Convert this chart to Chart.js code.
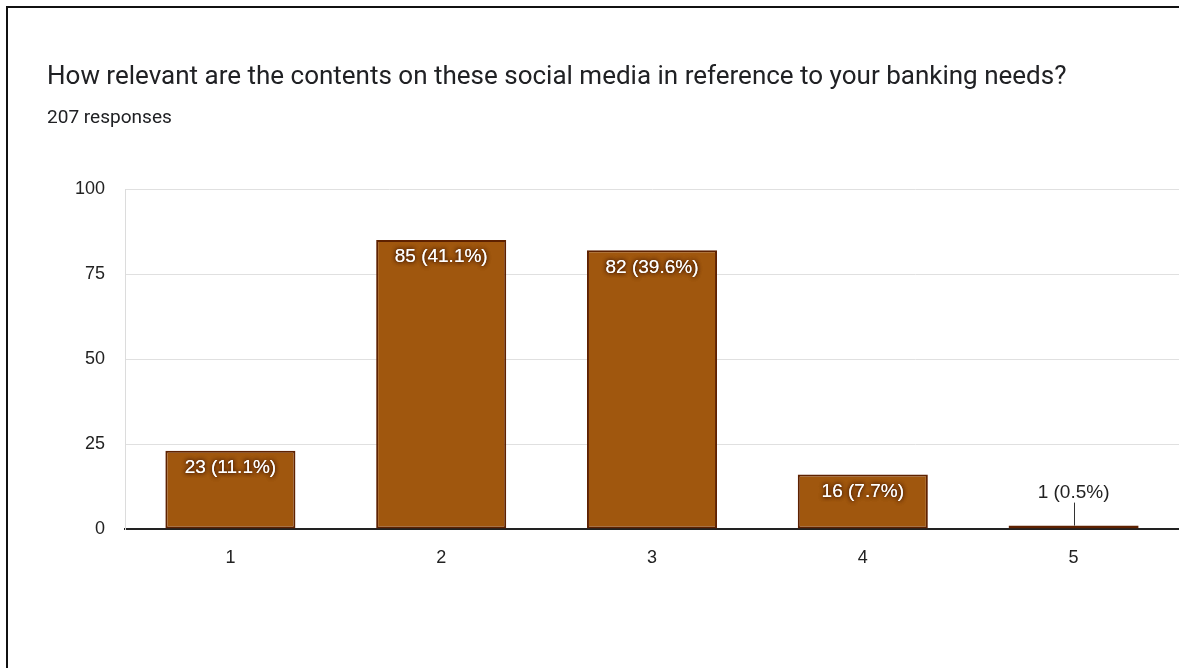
<!DOCTYPE html>
<html>
<head>
<meta charset="utf-8">
<script src="https://cdn.jsdelivr.net/npm/chart.js@4.4.1/dist/chart.umd.min.js"></script>
<style>
  html, body { margin: 0; padding: 0; background: #fff; overflow: hidden; }
  #wrap { position: relative; width: 1179px; height: 668px; }
</style>
</head>
<body>
<div id="wrap"><canvas id="chart"></canvas></div>
<script>
const titleText = "How relevant are the contents on these social media in reference to your banking needs?";
const subtitleText = "207 responses";
const categories = ["1", "2", "3", "4", "5"];
const responses = [23, 85, 82, 16, 1];
const percentLabels = ["11.1%", "41.1%", "39.6%", "7.7%", "0.5%"];
const yTicks = [0, 25, 50, 75, 100];

// size the heading fonts so they span the same width as in the picture
function fitSize(text, family, width) {
  const ctx = document.createElement("canvas").getContext("2d");
  ctx.font = "100px " + family;
  return 100 * width / ctx.measureText(text).width;
}
const titleSize = fitSize(titleText, "Roboto", 1020);
const subSize = fitSize(subtitleText, "Roboto", 125);

// the cropped card outline: only its left and top edges are in view
const cardEdge = {
  id: "cardEdge",
  beforeDraw(chart) {
    const ctx = chart.ctx;
    ctx.save();
    ctx.strokeStyle = "#111";
    ctx.lineWidth = 2;
    ctx.beginPath();
    ctx.moveTo(7, chart.height);
    ctx.lineTo(7, 7);
    ctx.lineTo(chart.width, 7);
    ctx.stroke();
    ctx.restore();
  },
};

const barLabels = {
  id: "barLabels",
  afterDatasetsDraw(chart) {
    const ctx = chart.ctx;
    const meta = chart.getDatasetMeta(0);
    ctx.save();
    ctx.font = "19px 'Liberation Sans'";
    ctx.textAlign = "center";
    ctx.textBaseline = "middle";
    meta.data.forEach((bar, i) => {
      const text = responses[i] + " (" + percentLabels[i] + ")";
      if (bar.base - bar.y > 30) {
        ctx.shadowColor = "rgba(60,20,0,0.95)";
        ctx.shadowBlur = 4;
        ctx.fillStyle = "#fff";
        ctx.fillText(text, bar.x, bar.y + 17);
        ctx.fillText(text, bar.x, bar.y + 17);
      } else {
        ctx.shadowBlur = 0;
        ctx.fillStyle = "#222";
        ctx.fillText(text, bar.x, bar.y - 33);
        ctx.strokeStyle = "#333";
        ctx.lineWidth = 1;
        ctx.beginPath();
        ctx.moveTo(Math.round(bar.x) + 0.5, bar.y - 23);
        ctx.lineTo(Math.round(bar.x) + 0.5, bar.y);
        ctx.stroke();
      }
    });
    ctx.restore();
  },
};

const config = {
  type: "bar",
  data: {
    labels: categories,
    datasets: [{
      data: responses,
      backgroundColor: "#a0570e",
      borderColor: "#5e2100",
      borderWidth: 2,
      borderSkipped: false,
      barPercentage: 0.617,
      categoryPercentage: 1,
    }],
  },
  options: {
    responsive: true,
    maintainAspectRatio: false,
    animation: false,
    layout: { padding: { left: 47, right: 0, top: 0, bottom: 99 } },
    plugins: {
      legend: { display: false },
      tooltip: { enabled: false },
      title: {
        display: true,
        text: titleText,
        align: "start",
        color: "#202124",
        font: { family: "Roboto", size: titleSize, weight: "normal", lineHeight: 1.2 },
        padding: { top: 62, bottom: 0 },
      },
      subtitle: {
        display: true,
        text: subtitleText,
        align: "start",
        color: "#202124",
        font: { family: "Roboto", size: subSize, lineHeight: 1.2 },
        padding: { top: 14, bottom: 59 },
      },
    },
    scales: {
      x: {
        afterFit: (s) => { s.height = 40; },
        grid: { display: false, drawTicks: false },
        border: { display: true, color: "#222", width: 2 },
        ticks: { color: "#222", font: { family: "Liberation Sans", size: 18 }, padding: 18 },
      },
      y: {
        min: 0,
        max: 100,
        afterFit: (s) => { s.width = 78; },
        afterBuildTicks: (s) => { s.ticks = yTicks.map((v) => ({ value: v })); },
        grid: { color: "#e0e0e0", drawTicks: false },
        border: { color: "#dcdcdc" },
        ticks: { color: "#222", font: { family: "Liberation Sans", size: 18 }, padding: 20 },
      },
    },
  },
  plugins: [cardEdge, barLabels],
};

new Chart(document.getElementById("chart"), config);
</script>
</body>
</html>
